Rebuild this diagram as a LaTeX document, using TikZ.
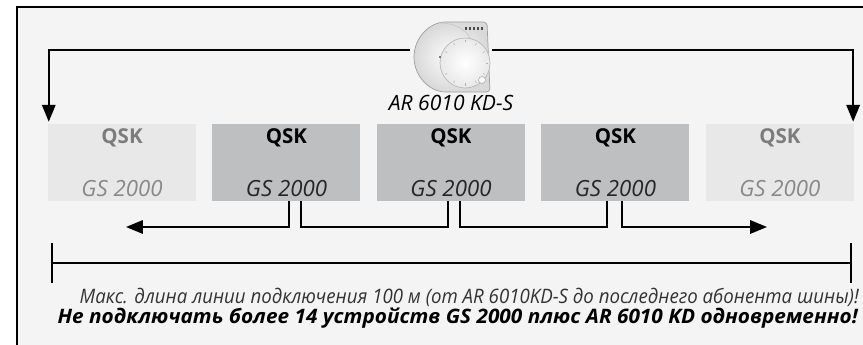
\documentclass[tikz,border=0pt]{standalone}
\usepackage{graphicx}
\usepackage{fontspec}
\setmainfont{Open Sans}
\usetikzlibrary{positioning,arrows.meta,calc}

\definecolor{panelgray}{HTML}{F4F4F4}
\definecolor{qsklight}{HTML}{E8E8E8}
\definecolor{qskdark}{HTML}{BEBFC1}
\definecolor{fadedtext}{HTML}{7C7C7C}
\definecolor{devicegray}{HTML}{9E9E9E}

\newcommand{\titlefont}{\fontsize{17.5}{20}\selectfont\bfseries}
\newcommand{\typefont}{\fontsize{19}{22}\selectfont\itshape}
\newcommand{\devicefont}{\fontsize{18}{21}\selectfont\itshape}
\newcommand{\notefont}{\fontsize{17}{20}\selectfont\itshape}

\begin{document}
\begin{tikzpicture}[
    x=0.03cm, y=0.03cm,
    qsk/.style={fill=#1, minimum width=4.44cm, minimum height=2.31cm, inner sep=0pt},
    boxtitle/.style={font=\titlefont, text=#1},
    boxtype/.style={font=\typefont, text=#1},
    busline/.style={draw=black, line width=1.7pt},
    arr/.style={busline, -{Triangle[width=11.5pt, length=14.5pt]}},
    dimline/.style={busline, {Bar[width=34pt]}-{Bar[width=34pt]}},
]

% === Page and panel ===
\useasboundingbox (0,0) rectangle (863,345);
\draw[fill=panelgray, line width=1.7pt] (17,338) rectangle (890,-30);

% === Room unit AR 6010 KD-S ===
\node[minimum width=2.46cm, minimum height=2.1cm, inner sep=0pt] (thermo) at (451,288) {};
% housing
\draw[draw=devicegray, line width=0.6pt, inner color=white, outer color=gray!30, rounded corners=3pt]
    (449,323) arc[start angle=90, end angle=270, radius=35] -- (490,253) -- (487,323) -- cycle;
\draw[gray!45, line width=0.5pt] (440,322) .. controls (455,322) and (466,315) .. (470,307);
% dial
\draw[draw=gray!55, line width=0.6pt, inner color=white, outer color=gray!18] (465,282) circle[radius=25];
\foreach \a in {150,120,...,-150}
    \draw[gray!60, line width=0.4pt] ($(465,282)+(\a:20.5)$) -- ($(465,282)+(\a:23)$);
\fill[gray!70!black] (440,288) circle[radius=1.2];
% knob and print
\draw[gray!60, fill=white, line width=0.6pt] (482,265) circle[radius=3.5];
\foreach \x in {465,469,...,481}
    \fill[gray!60!black] (\x,315) rectangle ++(2,3);

\node[font=\devicefont] (thermolabel) at (451,242) {AR 6010 KD-S};

% === Bus participants ===
\node[qsk=qsklight] (q1) at (122,182.5) {};
\node[qsk=qskdark, right=0.48cm of q1] (q2) {};
\node[qsk=qskdark, right=0.48cm of q2] (q3) {};
\node[qsk=qskdark, right=0.48cm of q3] (q4) {};
\node[qsk=qsklight, right=0.48cm of q4] (q5) {};

\node[boxtitle=fadedtext] (q1t) at ([yshift=0.735cm]q1.center) {QSK};
\node[boxtype=fadedtext!90] (q1b) at ([yshift=-0.78cm]q1.center) {GS 2000};
\node[boxtitle=black] (q2t) at ([yshift=0.735cm]q2.center) {QSK};
\node[boxtype=black!85] (q2b) at ([yshift=-0.78cm]q2.center) {GS 2000};
\node[boxtitle=black] (q3t) at ([yshift=0.735cm]q3.center) {QSK};
\node[boxtype=black!85] (q3b) at ([yshift=-0.78cm]q3.center) {GS 2000};
\node[boxtitle=black] (q4t) at ([yshift=0.735cm]q4.center) {QSK};
\node[boxtype=black!85] (q4b) at ([yshift=-0.78cm]q4.center) {GS 2000};
\node[boxtitle=fadedtext] (q5t) at ([yshift=0.735cm]q5.center) {QSK};
\node[boxtype=fadedtext!90] (q5b) at ([yshift=-0.78cm]q5.center) {GS 2000};

% === Connection from the room unit ===
\coordinate (topline) at (451,295);
\draw[arr] (thermo.west |- topline) -| ([xshift=0.03cm, yshift=0.06cm]q1.north west);
\draw[arr] (thermo.east |- topline) -| ([xshift=-0.03cm, yshift=0.06cm]q5.north east);

% === Bus wiring ===
\coordinate (busL) at (126,118);
\coordinate (busR) at (767,118);
\draw[arr] ([xshift=0.09cm]q2.south) |- (busL);
\draw[busline] ([xshift=0.45cm]q2.south) -- ++(0,-26) -| ([xshift=-0.09cm]q3.south);
\draw[busline] ([xshift=0.27cm]q3.south) -- ++(0,-26) -| ([xshift=-0.24cm]q4.south);
\draw[arr] ([xshift=0.21cm]q4.south) |- (busR);

% === Max. line length ===
\coordinate (dimL) at (51,82);
\coordinate (dimR) at (852,82);
\draw[dimline] (dimL) -- (dimR);

\node[anchor=base east, inner sep=0pt, text=black!80] (note1) at (859,41)
    {\resizebox{665pt}{\height}{\notefont Макс. длина линии подключения 100 м (от AR 6010KD-S до последнего абонента шины)!}};
\node[anchor=base east, inner sep=0pt] (note2) at (858,21)
    {\resizebox{683pt}{\height}{\notefont\bfseries Не подключать более 14 устройств GS 2000 плюс AR 6010 KD одновременно!}};

\end{tikzpicture}
\end{document}
